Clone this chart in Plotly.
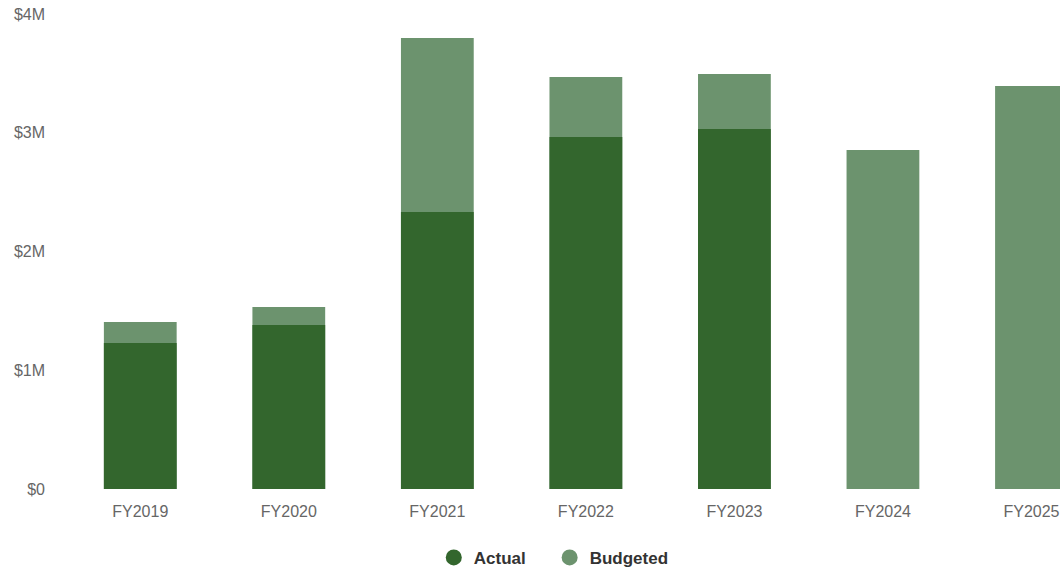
import plotly.graph_objects as go

categories = ["FY2019", "FY2020", "FY2021", "FY2022", "FY2023", "FY2024", "FY2025"]
actual = [1.229e6, 1.381e6, 2.333e6, 2.964e6, 3.032e6, None, None]
budgeted = [1.406e6, 1.533e6, 3.798e6, 3.469e6, 3.495e6, 2.855e6, 3.394e6]
y_ticks = [0, 1e6, 2e6, 3e6, 4e6]
y_tick_labels = ["$0", "$1M", "$2M", "$3M", "$4M"]

c_actual = "#33662d"
c_budget = "#6c936e"
font = "Liberation Sans, Arial, Helvetica, sans-serif"

fig = go.Figure()
fig.add_trace(go.Bar(x=categories, y=budgeted, name="Budgeted", marker_color=c_budget,
                     marker_line_width=0, width=0.49, showlegend=False))
fig.add_trace(go.Bar(x=categories, y=actual, name="Actual", marker_color=c_actual,
                     marker_line_width=0, width=0.49, showlegend=False))
# legend entries with circle markers
fig.add_trace(go.Scatter(x=[None], y=[None], mode="markers", name="Actual\u00a0\u00a0\u00a0\u00a0",
                         marker=dict(symbol="circle", size=17, color=c_actual)))
fig.add_trace(go.Scatter(x=[None], y=[None], mode="markers", name="Budgeted",
                         marker=dict(symbol="circle", size=17, color=c_budget)))

fig.update_layout(
    width=1060, height=571,
    margin=dict(l=66, r=0, t=14, b=82, autoexpand=False),
    barmode="overlay",
    plot_bgcolor="white", paper_bgcolor="white",
    font=dict(family=font, size=16, color="#666666"),
    showlegend=True,
    legend=dict(orientation="h", x=0.370, xanchor="left", y=-0.107, yanchor="top",
                font=dict(family=font, size=17, color="#333333", weight="bold"),
                itemsizing="trace"),
    xaxis=dict(type="category", range=[-0.5, 6.192], showgrid=False, zeroline=False,
               showline=False, ticks="", tickfont=dict(size=16, color="#666666"),
               ticklabelstandoff=11, automargin=False),
    yaxis=dict(range=[0, 4e6], tickvals=y_ticks, ticktext=y_tick_labels, showgrid=False,
               zeroline=False, showline=False, ticks="",
               tickfont=dict(size=16, color="#666666"), ticklabelstandoff=20,
               automargin=False),
)

fig.write_html("out.html")
